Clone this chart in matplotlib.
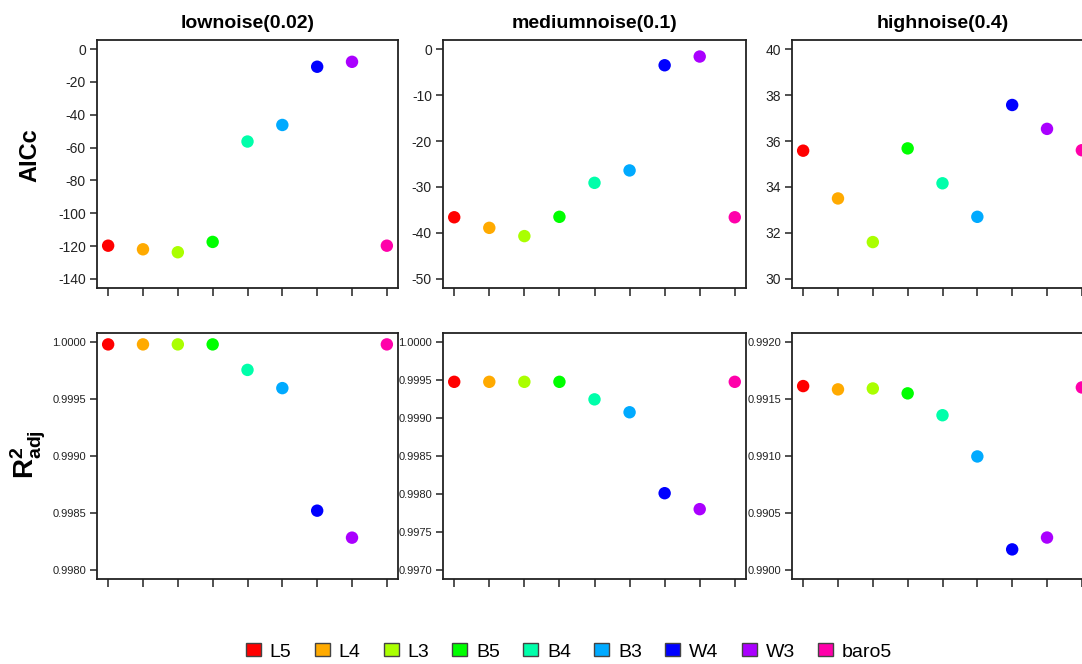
import matplotlib
matplotlib.use("Agg")
import matplotlib.pyplot as plt
from matplotlib.patches import Patch

plt.rcParams['font.family'] = ['Liberation Sans', 'DejaVu Sans']
plt.rcParams['axes.unicode_minus'] = False
plt.rcParams['mathtext.fontset'] = 'custom'
plt.rcParams['mathtext.rm'] = 'Liberation Sans'
plt.rcParams['mathtext.bf'] = 'Liberation Sans:bold'

models = ['L5', 'L4', 'L3', 'B5', 'B4', 'B3', 'W4', 'W3', 'baro5']
colors = ['#FF0000', '#FFAA00', '#AAFF00', '#00FF00', '#00FFAA',
          '#00AAFF', '#0000FF', '#AA00FF', '#FF00AA']
noise_titles = ['lownoise(0.02)', 'mediumnoise(0.1)', 'highnoise(0.4)']

# AICc per noise level
aicc_low = [-119.8, -122.0, -123.8, -117.5, -56.3, -46.2, -10.7, -7.7, -119.8]
aicc_med = [-36.6, -38.9, -40.7, -36.5, -29.1, -26.4, -3.5, -1.6, -36.6]
aicc_high = [35.58, 33.5, 31.6, 35.68, 34.16, 32.7, 37.57, 36.53, 35.6]

# adjusted R^2 per noise level
r2_low = [0.99998, 0.99998, 0.99998, 0.99998, 0.999756, 0.999596, 0.99852, 0.998283, 0.99998]
r2_med = [0.999477, 0.999477, 0.999477, 0.999477, 0.999246, 0.999076, 0.99801, 0.99780, 0.999477]
r2_high = [0.991614, 0.991585, 0.991593, 0.99155, 0.991358, 0.990996, 0.99018, 0.990284, 0.991602]

aicc = [aicc_low, aicc_med, aicc_high]
r2 = [r2_low, r2_med, r2_high]
aicc_lims = [(-140, 0), (-50, 0), (30, 40)]
aicc_ticks = [range(-140, 1, 20), range(-50, 1, 10), range(30, 41, 2)]
r2_lims = [(0.998, 1.0), (0.997, 1.0), (0.990, 0.992)]
r2_ticks = [[0.998, 0.9985, 0.999, 0.9995, 1.0],
            [0.997, 0.9975, 0.998, 0.9985, 0.999, 0.9995, 1.0],
            [0.990, 0.9905, 0.991, 0.9915, 0.992]]

W, H = 1082, 664
fig = plt.figure(figsize=(W / 100, H / 100), dpi=100)

lefts = [97, 443, 792]
widths = [301, 303, 301]
x = list(range(1, len(models) + 1))


def pad(lo, hi):
    # R style 4% axis extension
    d = (hi - lo) * 0.04
    return lo - d, hi + d


def style(ax, fs):
    for s in ax.spines.values():
        s.set_linewidth(1.3)
        s.set_color('#222222')
    ax.set_xticks(x)
    ax.set_xticklabels([])
    ax.set_xlim(pad(1, 9))
    ax.tick_params(axis='both', direction='out', length=5, width=1.1,
                   color='#222222', labelsize=fs, labelcolor='#222222', pad=3)
    ax.tick_params(axis='x', length=6)


for i in range(3):
    # top row: AICc
    ax = fig.add_axes([lefts[i] / W, (H - 288) / H, widths[i] / W, 248 / H])
    ax.scatter(x, aicc[i], c=colors, s=80, zorder=3, linewidths=0)
    ax.set_ylim(pad(*aicc_lims[i]))
    ax.set_yticks(list(aicc_ticks[i]))
    style(ax, 10)
    ax.set_title(noise_titles[i], fontsize=14, fontweight='bold', pad=8.5)

    # bottom row: adjusted R^2
    ax2 = fig.add_axes([lefts[i] / W, (H - 579) / H, widths[i] / W, 246 / H])
    ax2.scatter(x, r2[i], c=colors, s=80, zorder=3, linewidths=0)
    ax2.set_ylim(pad(*r2_lims[i]))
    ax2.set_yticks(r2_ticks[i])
    ax2.set_yticklabels(['%.4f' % v for v in r2_ticks[i]])
    style(ax2, 8)

fig.text(30 / W, 1 - 155 / H, 'AICc', rotation=90, fontsize=17,
         fontweight='bold', ha='center', va='center')
fig.text(28 / W, 1 - 455 / H, r'$\mathbf{R^2_{adj}}$', rotation=90, fontsize=20,
         ha='center', va='center')

handles = [Patch(facecolor=c, edgecolor='#444444', linewidth=1.0) for c in colors]
fig.legend(handles, models, loc='center', bbox_to_anchor=(569 / W, 1 - 652 / H),
           ncol=9, frameon=False, fontsize=14, handlelength=0.77, handleheight=0.6,
           handletextpad=0.45, columnspacing=1.2, borderpad=0, borderaxespad=0)

fig.savefig('out.png', dpi=100)
